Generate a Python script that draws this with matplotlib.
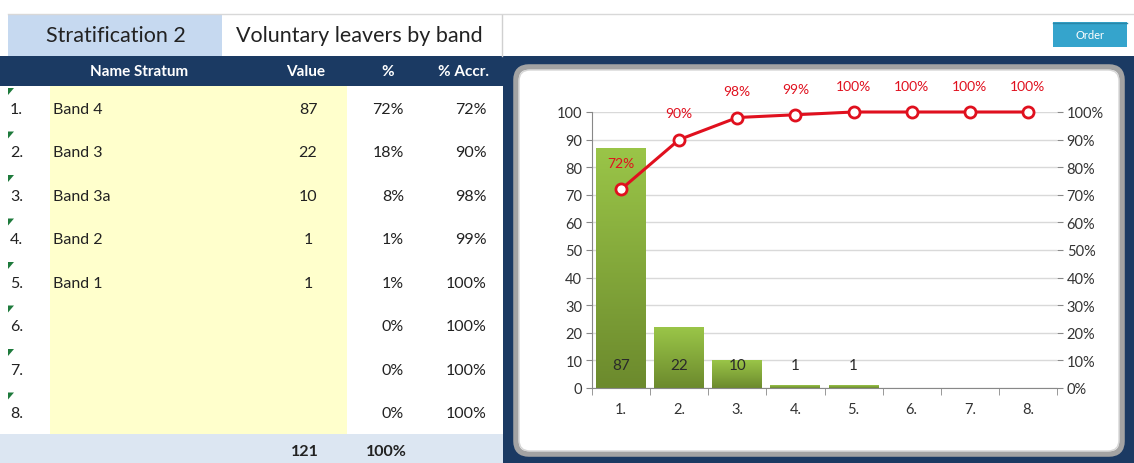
import numpy as np
import matplotlib
matplotlib.use("Agg")
import matplotlib.pyplot as plt
from matplotlib.patches import Rectangle, FancyBboxPatch, Polygon
from matplotlib.ticker import FixedLocator, PercentFormatter

# data
row_labels = ["1.", "2.", "3.", "4.", "5.", "6.", "7.", "8."]
bands = ["Band 4", "Band 3", "Band 3a", "Band 2", "Band 1", "", "", ""]
values = [87, 22, 10, 1, 1, None, None, None]
pct = [72, 18, 8, 1, 1, 0, 0, 0]
cum_pct = [72, 90, 98, 99, 100, 100, 100, 100]
total_value = 121
total_pct = 100

plt.rcParams["font.family"] = ["Lato", "DejaVu Sans"]

NAVY = "#1b3a63"
RED = "#e0101e"
TXT = "#222222"
W, H = 1134, 464

fig = plt.figure(figsize=(W / 100, H / 100), dpi=100)

# background axes in pixel coordinates (y down)
bg = fig.add_axes([0, 0, 1, 1])
bg.set_xlim(0, W)
bg.set_ylim(H, 0)
bg.axis("off")

# title row
bg.plot([8, W], [15, 15], color="#d8d8d8", lw=1)
bg.add_patch(Rectangle((8, 16), 214, 41, color="#c6d9f0", lw=0))
bg.plot([502, 502], [16, 57], color="#d0d0d0", lw=1)
bg.text(116, 36, "Stratification 2", fontsize=15.5, ha="center", va="center", color=TXT)
bg.text(236, 36, "Voluntary leavers by band", fontsize=15.5, ha="left", va="center", color=TXT)

# order button
bg.add_patch(Rectangle((1053, 23), 74, 25, color="#35a4cc", lw=0))
bg.plot([1053, 1127], [23.5, 23.5], color="#2a86a8", lw=1)
bg.text(1090, 35.5, "Order", fontsize=8, color="white", ha="center", va="center")

# navy header and chart background
bg.add_patch(Rectangle((0, 57), 503, 30, color=NAVY, lw=0))
bg.add_patch(Rectangle((503, 57), W - 503, H - 57, color=NAVY, lw=0))

hdr_y = 72
hdr_kw = dict(fontsize=11, fontweight="bold", color="white", ha="center", va="center")
bg.text(139, hdr_y, "Name Stratum", **hdr_kw)
bg.text(306, hdr_y, "Value", **hdr_kw)
bg.text(388, hdr_y, "%", **hdr_kw)
bg.text(463, hdr_y, "% Accr.", **hdr_kw)

# table body
row_top, row_h = 87, 43.5
bg.add_patch(Rectangle((50, row_top), 297, row_h * 8, color="#ffffcc", lw=0))
body_kw = dict(fontsize=11.5, va="center", color=TXT)
for i in range(len(row_labels)):
    y0 = row_top + row_h * i
    yc = y0 + 23
    bg.add_patch(Polygon([(8, y0 + 2), (14, y0 + 2), (8, y0 + 9)], closed=True, color="#1e7a3c", lw=0))
    bg.text(10, yc, row_labels[i], ha="left", **body_kw)
    bg.text(53, yc, bands[i], ha="left", **body_kw)
    if values[i] is not None:
        bg.text(308, yc, str(values[i]), ha="center", **body_kw)
    bg.text(404, yc, f"{pct[i]}%", ha="right", **body_kw)
    bg.text(487, yc, f"{cum_pct[i]}%", ha="right", **body_kw)

# total row
bg.add_patch(Rectangle((0, 435), 503, H - 435, color="#dce6f2", lw=0))
bg.text(305, 452, str(total_value), fontweight="bold", ha="center", **body_kw)
bg.text(386, 452, f"{total_pct}%", fontweight="bold", ha="center", **body_kw)

# chart panel
bg.add_patch(FancyBboxPatch((516, 68), 606, 387, boxstyle="round,pad=0,rounding_size=13",
                            facecolor="white", edgecolor="#a3a3a3", lw=4))
bg.add_patch(FancyBboxPatch((519, 71), 600, 381, boxstyle="round,pad=0,rounding_size=11",
                            facecolor="none", edgecolor="#d6d6d6", lw=1))

# chart axes
left, right, top, bottom = 592, 1057, 113, 389
ax = fig.add_axes([left / W, 1 - bottom / H, (right - left) / W, (bottom - top) / H])
ax.set_facecolor("none")
x = np.arange(1, len(row_labels) + 1)
bar_vals = [v if v is not None else 0 for v in values]
bars = ax.bar(x, bar_vals, width=0.86, color="none", edgecolor="none", zorder=2)

grad = np.linspace(0, 1, 100).reshape(-1, 1)
cmap = matplotlib.colors.LinearSegmentedColormap.from_list("g", ["#6c8a2d", "#9ac548"])
for b in bars:
    if b.get_height() <= 0:
        continue
    bx, by = b.get_x(), b.get_y()
    im = ax.imshow(grad, cmap=cmap, origin="lower", aspect="auto", zorder=2,
                   extent=(bx, bx + b.get_width(), by, by + b.get_height()))
    im.set_clip_path(b)

for xi, v in zip(x, values):
    if v is not None:
        ax.text(xi, 8.5, str(v), fontsize=11, ha="center", va="center", color="#2a2a2a", zorder=5)

ax.set_xlim(0.5, len(row_labels) + 0.5)
ax.set_ylim(0, 100)
ax.set_yticks(range(0, 101, 10))
ax.set_xticks(x)
ax.set_xticklabels(row_labels)
ax.xaxis.set_minor_locator(FixedLocator(np.arange(0.5, len(row_labels) + 1, 1)))
ax.tick_params(axis="x", which="major", length=0, pad=10, labelsize=10.5, colors="#333333")
ax.tick_params(axis="x", which="minor", length=5, color="#888888", direction="out")
ax.tick_params(axis="y", length=4, color="#888888", labelsize=10.5, labelcolor="#333333", pad=3)
ax.grid(axis="y", color="#d9d9d9", lw=1, zorder=0)
ax.set_axisbelow(True)
for s in ["top", "right"]:
    ax.spines[s].set_visible(False)
ax.spines["left"].set_color("#888888")
ax.spines["bottom"].set_color("#888888")

ax2 = ax.twinx()
ax2.set_ylim(0, 100)
ax2.set_yticks(range(0, 101, 10))
ax2.yaxis.set_major_formatter(PercentFormatter(decimals=0))
ax2.tick_params(axis="y", length=4, color="#888888", labelsize=10.5, labelcolor="#333333", pad=3)
for s in ["top", "left", "bottom", "right"]:
    ax2.spines[s].set_visible(False)
ax2.plot(x, cum_pct, color=RED, lw=2.2, marker="o", ms=8, mfc="white", mec=RED, mew=2,
         zorder=4, clip_on=False)
for xi, c in zip(x, cum_pct):
    ax2.annotate(f"{c}%", (xi, c), xytext=(0, 14.5), textcoords="offset points",
                 ha="center", va="bottom", fontsize=10, color=RED, annotation_clip=False)

fig.savefig("out.png", dpi=100)
